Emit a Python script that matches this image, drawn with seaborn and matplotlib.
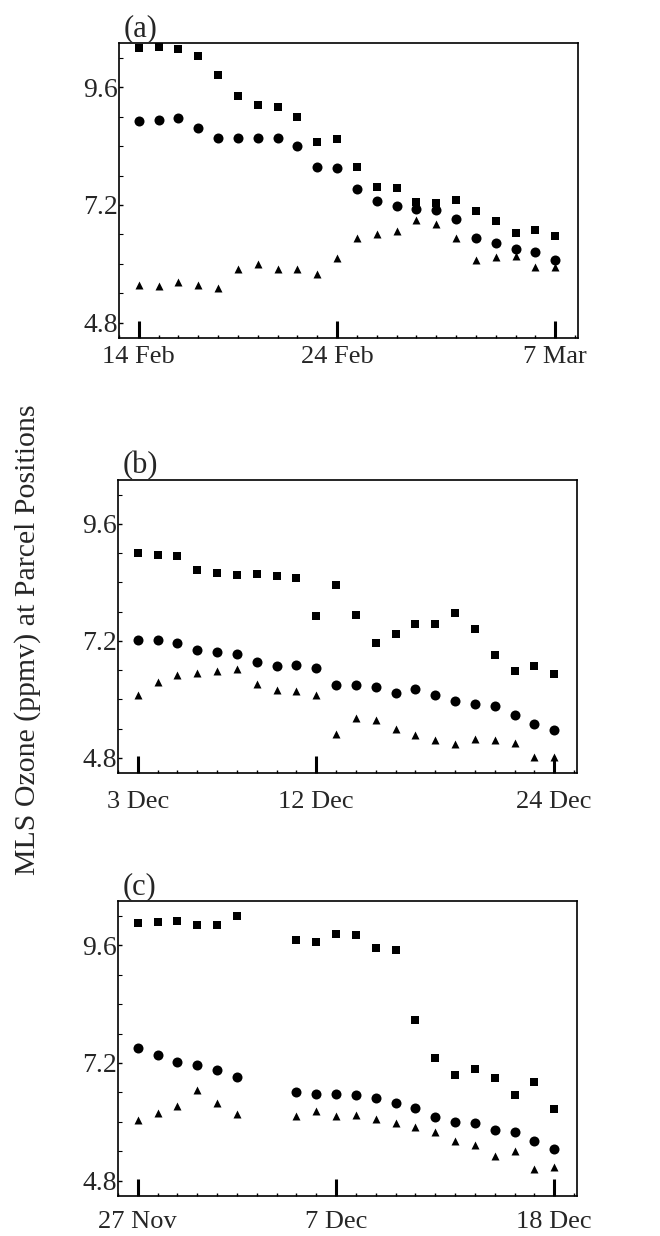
import numpy as np
import pandas as pd
import matplotlib
matplotlib.use("Agg")
import matplotlib.pyplot as plt
from matplotlib.ticker import MultipleLocator, FixedLocator
import seaborn as sns

# ---- data: MLS ozone (ppmv) sampled along three parcel trajectories ----
# day offsets from the first date of each period
days_a = list(range(22))
days_b = list(range(22))
days_c = [0, 1, 2, 3, 4, 5, 8, 9, 10, 11, 12, 13, 14, 15, 16, 17, 18, 19, 20, 21]

# (a) 14 Feb - 7 Mar
sq_a = [10.40, 10.42, 10.37, 10.23, 9.85, 9.42, 9.23, 9.19, 8.99, 8.49, 8.55,
        7.97, 7.57, 7.55, 7.27, 7.25, 7.30, 7.08, 6.88, 6.62, 6.69, 6.57]
ci_a = [8.92, 8.94, 8.97, 8.76, 8.57, 8.57, 8.57, 8.57, 8.40, 7.97, 7.96,
        7.53, 7.29, 7.17, 7.12, 7.10, 6.92, 6.53, 6.42, 6.30, 6.25, 6.08]
tr_a = [5.57, 5.54, 5.64, 5.57, 5.51, 5.89, 5.99, 5.89, 5.89, 5.80, 6.11,
        6.52, 6.61, 6.66, 6.90, 6.81, 6.52, 6.07, 6.15, 6.17, 5.94, 5.94]

# (b) 3 Dec - 24 Dec
sq_b = [9.00, 8.97, 8.95, 8.65, 8.59, 8.56, 8.57, 8.54, 8.49, 7.71, 8.35,
        7.73, 7.16, 7.34, 7.55, 7.55, 7.78, 7.45, 6.92, 6.59, 6.68, 6.53]
ci_b = [7.21, 7.21, 7.16, 7.02, 6.98, 6.93, 6.76, 6.69, 6.70, 6.65, 6.30,
        6.29, 6.26, 6.13, 6.21, 6.08, 5.97, 5.91, 5.86, 5.68, 5.50, 5.38]
tr_b = [6.08, 6.35, 6.51, 6.55, 6.59, 6.63, 6.32, 6.19, 6.17, 6.08, 5.28,
        5.61, 5.58, 5.40, 5.27, 5.17, 5.08, 5.19, 5.17, 5.10, 4.81, 4.81]

# (c) 27 Nov - 18 Dec (no samples on 3-4 Dec)
sq_c = [10.06, 10.08, 10.10, 10.02, 10.02, 10.19, 9.70, 9.67, 9.82, 9.80,
        9.55, 9.51, 8.07, 7.30, 6.96, 7.07, 6.90, 6.55, 6.82, 6.27]
ci_c = [7.50, 7.36, 7.21, 7.16, 7.05, 6.91, 6.60, 6.57, 6.56, 6.54,
        6.48, 6.38, 6.28, 6.09, 6.00, 5.98, 5.84, 5.79, 5.62, 5.45]
tr_c = [6.04, 6.19, 6.32, 6.64, 6.38, 6.17, 6.13, 6.23, 6.11, 6.15,
        6.06, 5.98, 5.90, 5.80, 5.61, 5.53, 5.31, 5.40, 5.03, 5.08]

panel_labels = ["(a)", "(b)", "(c)"]
xtick_pos = [[0, 10, 21], [0, 9, 21], [0, 10, 21]]
xtick_text = [["14 Feb", "24 Feb", "7 Mar"],
              ["3 Dec", "12 Dec", "24 Dec"],
              ["27 Nov", "7 Dec", "18 Dec"]]
ytick_vals = [4.8, 7.2, 9.6]
ylabel = "MLS Ozone (ppmv) at Parcel Positions"

sns.set_style("ticks")
plt.rcParams["font.family"] = ["Liberation Serif", "DejaVu Serif"]

fig = plt.figure(figsize=(6.6, 12.36), dpi=100)
W, H = 660.0, 1236.0
boxes = [(119, 43, 578, 338), (118, 480, 577, 773), (118, 901, 577, 1196)]
label_pads = [6, 13, 11]

panels = [(days_a, sq_a, ci_a, tr_a), (days_b, sq_b, ci_b, tr_b),
          (days_c, sq_c, ci_c, tr_c)]

for i, ((days, sq, ci, tr), (l, t, r, b)) in enumerate(zip(panels, boxes)):
    ax = fig.add_axes([l / W, 1 - b / H, (r - l) / W, (b - t) / H])
    df = pd.DataFrame({"day": days, "square": sq, "circle": ci, "triangle": tr})
    sns.scatterplot(data=df, x="day", y="square", marker="s", s=26,
                    color="black", edgecolor="black", linewidth=0, ax=ax)
    sns.scatterplot(data=df, x="day", y="circle", marker="o", s=52,
                    color="black", edgecolor="black", linewidth=0, ax=ax)
    sns.scatterplot(data=df, x="day", y="triangle", marker="^", s=33,
                    color="black", edgecolor="black", linewidth=0, ax=ax)

    ax.set_xlim(-1.0, 22.15)
    ax.set_ylim(4.49, 10.5)
    ax.set_xlabel("")
    ax.set_ylabel("")

    ax.xaxis.set_major_locator(FixedLocator(xtick_pos[i]))
    ax.set_xticklabels(xtick_text[i])
    ax.xaxis.set_minor_locator(MultipleLocator(1))
    ax.yaxis.set_major_locator(FixedLocator(ytick_vals))
    ax.set_yticklabels([f"{v:.1f}" for v in ytick_vals])
    ax.yaxis.set_minor_locator(MultipleLocator(0.6))

    ax.tick_params(axis="x", which="major", direction="in", length=12,
                   width=2.2, color="black", labelsize=19, pad=label_pads[i],
                   top=False)
    ax.tick_params(axis="x", which="minor", direction="in", length=2.5,
                   width=1.0, color="black", top=False)
    ax.tick_params(axis="y", which="major", direction="in", length=3,
                   width=1.0, color="black", labelsize=20, pad=1, right=False)
    ax.tick_params(axis="y", which="minor", direction="in", length=3,
                   width=0.8, color="black", right=False)
    for s in ax.spines.values():
        s.set_visible(True)
        s.set_color("black")
        s.set_linewidth(1.2)

    ax.text(0.01, 1.0, panel_labels[i], transform=ax.transAxes,
            fontsize=22, ha="left", va="bottom")

fig.text(28 / W, 1 - 640 / H, ylabel, rotation=90, ha="center", va="center",
         fontsize=21.5)

fig.savefig("out.png", dpi=100, facecolor="white")
